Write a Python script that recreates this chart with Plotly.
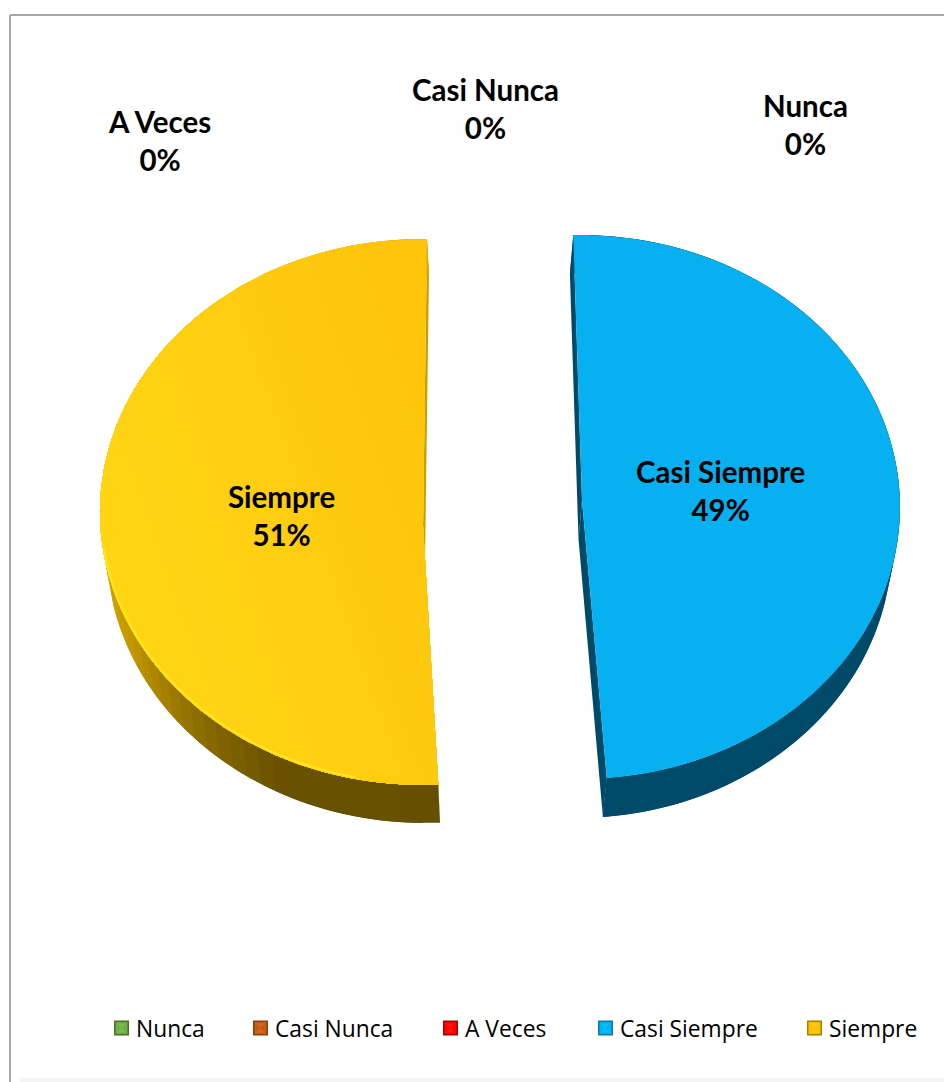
import numpy as np
import plotly.graph_objects as go

# Survey responses, share of answers in percent
categories = ["Nunca", "Casi Nunca", "A Veces", "Casi Siempre", "Siempre"]
shares = [0, 0, 0, 49, 51]
legend_colors = ["#70AD47", "#C55A11", "#FF0000", "#00B0F0", "#FFC000"]
legend_shades = ["#47702C", "#82400F", "#A80000", "#0A7CAA", "#A88000"]
legend_lights = ["#7DBB53", "#D5691C", "#FF1414", "#14BAF5", "#FFC818"]

W, H = 944, 1082

# Projected geometry of each visible slice of the tilted, exploded pie.
# The underside rim is narrower than the top rim by base_scale, as seen in perspective.
GEOM = {
    "Casi Siempre": dict(cx=580, cy=507, rx=320, ry=272, apex=(582, 500), start=-1.2,
                         shift=(-3.5, 39), edge="#004A69", base_scale=0.985),
    "Siempre": dict(cx=422.5, cy=512, rx=322.5, ry=273, apex=(423, 525), start=177.2,
                    shift=(2, 38), edge="#C8A000", base_scale=0.985),
}
# Top surface shading: stops along the direction x - 0.35 * (y - 512)
TOP_STOPS = {
    "Casi Siempre": [(0, "#07B0F1"), (1000, "#07B0F1")],
    "Siempre": [(60, "#FFD614"), (230, "#FFD112"), (340, "#FECA0F"), (500, "#FEC40A")],
}
WALL_STOPS = {
    "Casi Siempre": [(-2, "#004A69"), (180, "#004A69")],
    "Siempre": [(177, "#664F00"), (206, "#685100"), (224, "#8B6B00"), (245, "#C29600"),
                (265, "#D8A800"), (362, "#D8A800")],
}
LABEL_POS = {"Nunca": (805, 124.5), "Casi Nunca": (485, 108.5), "A Veces": (159, 140.5),
             "Casi Siempre": (720, 490), "Siempre": (281, 515)}
LEGEND_LEFT = {"Nunca": 114, "Casi Nunca": 253, "A Veces": 443, "Casi Siempre": 598, "Siempre": 807}
LEGEND_Y = 1028


def hex_rgb(c):
    return np.array([int(c[i:i + 2], 16) for i in (1, 3, 5)], float)


def ramp(stops, a):
    angles = [s[0] for s in stops]
    rgb = np.array([hex_rgb(s[1]) for s in stops])
    vals = [np.interp(a, angles, rgb[:, k]) for k in range(3)]
    return "rgb(%d,%d,%d)" % tuple(round(v) for v in vals)


def rim(g, deg):
    rad = np.radians(deg)
    return g["cx"] + g["rx"] * np.sin(rad), g["cy"] - g["ry"] * np.cos(rad)


def base_rim(g, deg):
    rad = np.radians(deg)
    sx, sy = g["shift"]
    return (g["cx"] + sx + g["rx"] * g["base_scale"] * np.sin(rad),
            g["cy"] + sy - g["ry"] * np.cos(rad))


def poly(fig, xs, ys, color):
    fig.add_trace(go.Scatter(x=list(xs), y=list(ys), mode="lines", fill="toself", fillcolor=color,
                             line=dict(color=color, width=0), hoverinfo="skip", showlegend=False))


def clip_halfplane(xs, ys, limit):
    """Keep the part of a polygon where x - 0.35 * (y - 512) <= limit."""
    pts = list(zip(xs, ys))
    out = []
    f = lambda p: p[0] - 0.35 * (p[1] - 512) - limit
    for p, q in zip(pts, pts[1:] + pts[:1]):
        fp, fq = f(p), f(q)
        if fp <= 0:
            out.append(p)
        if (fp <= 0) != (fq <= 0):
            k = fp / (fp - fq)
            out.append((p[0] + k * (q[0] - p[0]), p[1] + k * (q[1] - p[1])))
    return [o[0] for o in out], [o[1] for o in out]


fig = go.Figure()

for name, share in zip(categories, shares):
    if share == 0:
        continue
    g = GEOM[name]
    a0, a1 = g["start"], g["start"] + share * 3.6
    sx, sy = g["shift"]
    ax, ay = g["apex"]

    # Cut faces, extruded downward from the two straight edges
    for edge_angle in (a0, a1):
        ex, ey = rim(g, edge_angle)
        bx, by = base_rim(g, edge_angle)
        poly(fig, [ex, ax, ax + sx, bx], [ey, ay, ay + sy, by], g["edge"])

    # Outer wall, painted in overlapping segments so the shading varies along the arc
    edges = np.linspace(a0, a1, 61)
    step = edges[1] - edges[0]
    for lo in edges[:-1]:
        hi = min(lo + 2 * step, a1)
        t = np.linspace(lo, hi, 5)
        x, y = rim(g, t)
        bx, by = base_rim(g, t)
        poly(fig, np.r_[x, bx[::-1]], np.r_[y, by[::-1]], ramp(WALL_STOPS[name], lo + step / 2))

    # Top surface: the whole slice, then successively smaller clipped parts painted over it
    x, y = rim(g, np.linspace(a0, a1, 240))
    top_x, top_y = [ax] + list(x), [ay] + list(y)
    stops = TOP_STOPS[name]
    poly(fig, top_x, top_y, ramp(stops, 10000))
    if stops[0][1] != stops[-1][1]:
        for limit in np.arange(480, 60, -8.0):
            cx, cy = clip_halfplane(top_x, top_y, limit)
            if cx:
                poly(fig, cx, cy, ramp(stops, limit))

    # Bright bevel along the lower left of the gold slice
    if name == "Siempre":
        x, y = rim(g, np.linspace(192, 262, 80))
        fig.add_trace(go.Scatter(x=x + 0.5, y=y - 1.5, mode="lines", line=dict(color="#FFE61E", width=2),
                                 hoverinfo="skip", showlegend=False))

annotations = []
for name, share in zip(categories, shares):
    lx, ly = LABEL_POS[name]
    annotations.append(dict(x=lx, y=ly, text=f"<b>{name}<br>{share}%</b>", showarrow=False,
                            xanchor="center", yanchor="middle",
                            font=dict(family="Lato", size=29.5, color="#000000")))

# Legend row: bevelled square keys followed by their labels
for name, base, shade, light in zip(categories, legend_colors, legend_shades, legend_lights):
    left = LEGEND_LEFT[name]
    fig.add_trace(go.Scatter(x=[left + 7.5], y=[LEGEND_Y], mode="markers", name=name,
                             marker=dict(symbol="square", size=13.5, color=base, line=dict(color=shade, width=1.5)),
                             hoverinfo="name", showlegend=False))
    fig.add_trace(go.Scatter(x=[left + 7.5], y=[LEGEND_Y], mode="markers",
                             marker=dict(symbol="hourglass", size=9, color=light, line=dict(width=0)),
                             hoverinfo="skip", showlegend=False))
    annotations.append(dict(x=left + 20, y=LEGEND_Y, text=name, showarrow=False, xanchor="left",
                            yanchor="middle",
                            font=dict(family="Open Sans", size=22.8, color="#000000")))

frame = dict(type="line", xref="x", yref="y", line=dict(color="#A6A6A6", width=2), layer="below")
shapes = [
    dict(frame, x0=10, y0=15, x1=W, y1=15),
    dict(frame, x0=10, y0=15, x1=10, y1=H),
    dict(type="rect", xref="x", yref="y", x0=20, x1=W, y0=1078, y1=H, fillcolor="#F4F4F4",
         line=dict(width=0), layer="below"),
]

fig.update_layout(
    width=W, height=H, margin=dict(l=0, r=0, t=0, b=0),
    paper_bgcolor="#FFFFFF", plot_bgcolor="#FFFFFF",
    xaxis=dict(range=[0, W], visible=False, fixedrange=True),
    yaxis=dict(range=[H, 0], visible=False, fixedrange=True),
    annotations=annotations, shapes=shapes, showlegend=False,
)

fig.write_html("out.html", config={"displayModeBar": False})
